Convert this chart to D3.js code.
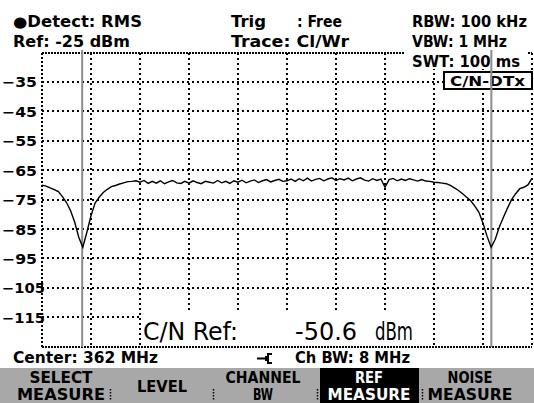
<!DOCTYPE html>
<html><head><meta charset="utf-8">
<script src="https://cdn.jsdelivr.net/npm/d3@7"></script>
<style>
html,body{margin:0;padding:0;background:#fff;}
svg{display:block;}
text{font-family:"DejaVu Sans",sans-serif;font-weight:bold;fill:#000;}
</style></head>
<body>
<svg id="c" width="534" height="403"></svg>
<script>
// ---- data ----
const spanMHz = [-5, 5];                 // frequency offset from centre (MHz)
const levelRange = [-125, -25];          // dBm
const yTickLabels = [-35, -45, -55, -65, -75, -85, -95, -105, -115];
const xGridTicks = [-5, -4, -3, -2, -1, 0, 1, 2, 3, 4, 5];
const yGridTicks = [-25, -35, -45, -55, -65, -75, -85, -95, -105, -115, -125];
const markerOffsets = [-4.18, 4.17];
// trace samples, evenly spaced over the span (121 points)
const traceLevels = [
  -70.1,-70.4,-71.0,-71.6,-72.3,-74.0,-76.0,-78.8,-82.6,-87.8,
  -91.2,-86.0,-80.5,-76.2,-74.2,-72.6,-71.5,-70.6,-70.2,-69.7,
  -69.3,-68.9,-68.8,-68.6,
  -69.1,-68.5,-69.5,-68.8,-69.4,-68.6,-69.6,-69.0,-68.5,-69.3,-69.5,-68.8,
  -69.4,-68.6,-69.2,-69.6,-68.8,-69.1,-69.4,-68.5,-69.3,-68.8,-69.5,-68.6,
  -69.1,-68.4,-69.3,-68.7,-68.3,-69.2,-68.6,-68.2,-69.0,-68.5,-68.1,-68.8,
  -68.6,-68.0,-68.8,-67.9,-68.6,-67.7,-68.7,-68.1,-67.8,-68.6,-68.0,-67.6,
  -68.5,-67.9,-68.3,-67.7,-68.6,-68.0,-67.6,-68.4,-68.7,-67.9,-68.5,-68.0,
  -70.8,-68.2,-67.8,-68.6,-68.0,-68.5,-67.9,-68.3,-68.7,-68.2,-68.7,-68.8,-69.1,-69.2,
  -69.4,-69.6,-70.2,-71.0,-71.9,-73.0,-74.2,-75.4,-77.2,-79.3,
  -83.0,-87.5,-91.2,-88.5,-84.3,-81.0,-77.9,-75.0,-73.0,-71.3,
  -70.8,-70.0,-67.8
];
const headerLeft = ["\u25CFDetect: RMS", "Ref: -25 dBm"];
const headerMid = ["Trig", ": Free", "Trace: Cl/Wr"];
const headerRight = ["RBW: 100 kHz", "VBW: 1 MHz", "SWT: 100 ms"];
const modeLabel = "C/N-DTx";
const readout = ["C/N Ref:", "-50.6", "dBm"];
const footer = ["Center: 362 MHz", "Ch BW: 8 MHz"];
const softkeys = [["SELECT","MEASURE"],["LEVEL"],["CHANNEL","BW"],["REF","MEASURE"],["NOISE","MEASURE"]];
const activeKey = 3;

// ---- drawing ----
const svg = d3.select("#c");
const x = d3.scaleLinear().domain(spanMHz).range([42, 532]);
const y = d3.scaleLinear().domain(levelRange).range([346.7, 52.5]);

const grid = svg.append("g").attr("shape-rendering", "crispEdges");
// horizontal grid
grid.selectAll("line.h").data(yGridTicks).join("line")
  .attr("x1", x(spanMHz[0])).attr("x2", d => d === -115 ? 141 : x(spanMHz[1]))
  .attr("y1", d => Math.round(y(d))).attr("y2", d => Math.round(y(d)))
  .attr("stroke", "#000").attr("stroke-width", 2)
  .attr("stroke-dasharray", d => (d === -25 || d === -125) ? "2,1" : "2,3");
// vertical grid
grid.selectAll("line.v").data(xGridTicks).join("line")
  .attr("x1", d => Math.round(x(d))).attr("x2", d => Math.round(x(d)))
  .attr("y1", Math.round(y(levelRange[1]))).attr("y2", Math.round(y(levelRange[0])))
  .attr("stroke", "#000").attr("stroke-width", 2)
  .attr("stroke-dasharray", d => (d === -5) ? "2,2" : "2,3");

// white backgrounds
svg.append("rect").attr("x", 404).attr("y", 49).attr("width", 124).attr("height", 20).attr("fill", "#fff");
svg.append("rect").attr("x", 143).attr("y", 313).attr("width", 287).attr("height", 32).attr("fill", "#fff");
svg.append("rect").attr("x", 444).attr("y", 72).attr("width", 88).attr("height", 17)
  .attr("fill", "#fff").attr("stroke", "#000").attr("stroke-width", 2);

// y labels via axis
const yAxis = d3.axisLeft(y).tickValues(yTickLabels).tickSize(0).tickFormat(d3.format("d"));
const ag = svg.append("g").call(yAxis);
ag.select(".domain").remove();
ag.selectAll("text")
  .attr("x", 2).attr("dy", null).attr("y", 5)
  .attr("text-anchor", "start")
  .style("font-family", "DejaVu Sans").style("font-weight", "bold").style("font-size", "14px")
  .attr("textLength", d => String(d).length === 3 ? 35 : 43)
  .attr("lengthAdjust", "spacingAndGlyphs");

// header text
function txt(s, tx, ty, len, size, anchor) {
  const t = svg.append("text").attr("x", tx).attr("y", ty).text(s)
    .style("font-size", (size || 15) + "px");
  if (len) t.attr("textLength", len).attr("lengthAdjust", "spacingAndGlyphs");
  if (anchor) t.attr("text-anchor", anchor);
  return t;
}
txt(headerLeft[0], 13, 27, 129);
txt(headerLeft[1], 13, 47, 117);
txt(headerMid[0], 231, 27, 35);
txt(headerMid[1], 297, 27, 45);
txt(headerMid[2], 231, 47, 118);
txt(headerRight[0], 412, 27, 115);
txt(headerRight[1], 412, 47, 95);
txt(headerRight[2], 412, 67, 108);
txt(modeLabel, 450, 86, 75, 14);

// readout (thin, large)
[[readout[0], 143, 95], [readout[1], 295, 62], [readout[2], 375, 38]].forEach(r => {
  svg.append("text").attr("x", r[1]).attr("y", 340).text(r[0])
    .style("font-family", "DejaVu Sans Condensed").style("font-weight", "normal").style("font-size", "25px")
    .attr("textLength", r[2]).attr("lengthAdjust", "spacingAndGlyphs");
});

// markers
svg.selectAll("line.mk").data(markerOffsets).join("line")
  .attr("x1", d => x(d)).attr("x2", d => x(d))
  .attr("y1", 50).attr("y2", 347)
  .attr("stroke", "#8c8c8c").attr("stroke-width", 2);

// trace
const n = traceLevels.length;
const fx = i => spanMHz[0] + i * (spanMHz[1] - spanMHz[0]) / (n - 1);
svg.append("path").datum(traceLevels)
  .attr("fill", "none").attr("stroke", "#000").attr("stroke-width", 1.4)
  .attr("d", d3.line().x((d, i) => x(fx(i))).y(d => y(d)));

// footer
txt(footer[0], 13, 363, 145);
svg.append("path").attr("d", "M257,358.5 L266,358.5 M272,354 L268,354 L268,363 L272,363 M266,356 L266,361")
  .attr("fill", "none").attr("stroke", "#000").attr("stroke-width", 2);
txt(footer[1], 295, 363, 115);

// softkeys
svg.append("rect").attr("x", 0).attr("y", 368).attr("width", 534).attr("height", 35).attr("fill", "#a8a8a8");
const keyCenters = [61, 162, 263, 369, 470];
svg.append("rect").attr("x", 320).attr("y", 368).attr("width", 99).attr("height", 35).attr("fill", "#000");
const seps = [110, 213, 317, 422];
svg.selectAll("line.sep").data(seps).join("line")
  .attr("x1", d => d + 0.5).attr("x2", d => d + 0.5).attr("y1", 389).attr("y2", 401)
  .attr("stroke", "#000").attr("stroke-width", 1.5).attr("stroke-dasharray", "1.5,1.5");
const keyLens = [[63, 88], [50], [75, 20], [28, 83], [45, 85]];
softkeys.forEach((lines, k) => {
  lines.forEach((s, j) => {
    const yy = lines.length === 1 ? 392 : (j === 0 ? 383 : 400);
    svg.append("text").attr("x", keyCenters[k]).attr("y", yy).attr("text-anchor", "middle")
      .text(s).style("font-size", "15px")
      .style("fill", k === activeKey ? "#fff" : "#000")
      .attr("textLength", keyLens[k][j]).attr("lengthAdjust", "spacingAndGlyphs");
  });
});
</script>
</body></html>
